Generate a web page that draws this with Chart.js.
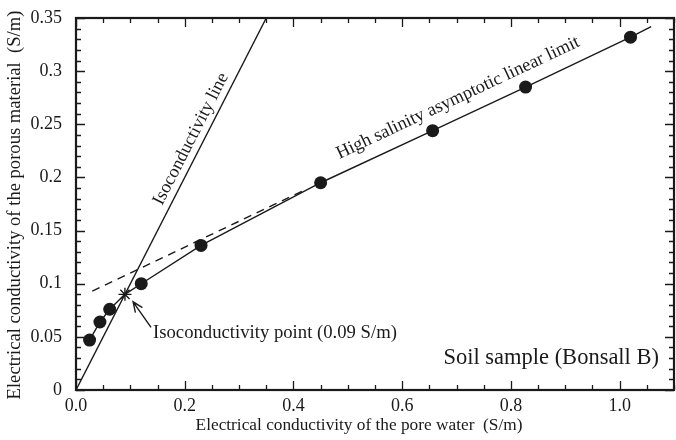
<!DOCTYPE html>
<html>
<head>
<meta charset="utf-8">
<script src="https://cdn.jsdelivr.net/npm/chart.js@4.4.1/dist/chart.umd.min.js"></script>
<style>
  html, body { margin: 0; padding: 0; background: #fff; overflow: hidden; }
  canvas { display: block; }
</style>
</head>
<body>
<canvas id="chart0" width="676" height="440"></canvas>
<script>
/** Data **/
// measured samples
const pointX = [0.025, 0.044, 0.062, 0.12, 0.23, 0.45, 0.656, 0.827, 1.02];
const pointY = [0.047, 0.064, 0.076, 0.100, 0.136, 0.195, 0.244, 0.285, 0.332];
// solid curve through the samples
const curveX = [0.025, 0.044, 0.062, 0.09, 0.12, 0.23, 0.45, 0.656, 0.827, 1.02, 1.058];
const curveY = [0.047, 0.064, 0.076, 0.09, 0.100, 0.136, 0.195, 0.244, 0.285, 0.332, 0.342];
// high salinity asymptotic linear limit (dashed part)
const limitX = [0.03, 0.42];
const limitY = [0.093, 0.188];
// isoconductivity line y = x
const isoX = [0, 0.35];
const isoY = [0, 0.35];
// isoconductivity point
const isoPointX = [0.09];
const isoPointY = [0.09];

const xTickLabels = ["0.0", "0.2", "0.4", "0.6", "0.8", "1.0"];
const yTickLabels = ["0", "0.05", "0.1", "0.15", "0.2", "0.25", "0.3", "0.35"];

const ink = "#1a1a1a";
const serif = "'Liberation Serif', 'DejaVu Serif', serif";

function pairs(xs, ys) {
  return xs.map(function(x, i) { return {x: x, y: ys[i]}; });
}

function noPadding(scale) {
  scale.paddingLeft = 0;
  scale.paddingRight = 0;
  scale.paddingTop = 0;
  scale.paddingBottom = 0;
}

/** Frame, inward ticks and annotations **/
const decorations = {
  id: "decorations",
  afterDatasetsDraw: function(chart) {
    const ctx = chart.ctx;
    const a = chart.chartArea;
    const xs = chart.scales.x;
    const ys = chart.scales.y;
    ctx.save();
    ctx.strokeStyle = ink;
    ctx.fillStyle = ink;

    // ticks on all four sides, pointing in
    ctx.lineWidth = 1.3;
    ctx.beginPath();
    for (let i = 0; i <= 22; i++) {
      const px = Math.round(xs.getPixelForValue(i * 0.05)) + 0.5;
      const len = (i % 4 === 0) ? 9 : 5;
      ctx.moveTo(px, a.bottom); ctx.lineTo(px, a.bottom - len);
      ctx.moveTo(px, a.top); ctx.lineTo(px, a.top + len);
    }
    for (let j = 0; j <= 35; j++) {
      const py = Math.round(ys.getPixelForValue(j * 0.01)) + 0.5;
      const len = (j % 5 === 0) ? 9 : 5;
      ctx.moveTo(a.left, py); ctx.lineTo(a.left + len, py);
      ctx.moveTo(a.right, py); ctx.lineTo(a.right - len, py);
    }
    ctx.stroke();

    // frame
    ctx.lineWidth = 2.2;
    ctx.strokeRect(a.left, a.top, a.right - a.left, a.bottom - a.top);

    // arrow to the isoconductivity point
    const tx = xs.getPixelForValue(0.138), ty = ys.getPixelForValue(0.059);
    const hx = xs.getPixelForValue(0.105), hy = ys.getPixelForValue(0.083);
    const ang = Math.atan2(hy - ty, hx - tx);
    ctx.lineWidth = 1.4;
    ctx.beginPath();
    ctx.moveTo(tx, ty); ctx.lineTo(hx, hy);
    ctx.moveTo(hx - 11 * Math.cos(ang - 0.4), hy - 11 * Math.sin(ang - 0.4));
    ctx.lineTo(hx, hy);
    ctx.lineTo(hx - 11 * Math.cos(ang + 0.4), hy - 11 * Math.sin(ang + 0.4));
    ctx.stroke();

    // rotated labels
    function slopeAngle(x0, y0, x1, y1) {
      return Math.atan2(ys.getPixelForValue(y1) - ys.getPixelForValue(y0),
                        xs.getPixelForValue(x1) - xs.getPixelForValue(x0));
    }
    ctx.textAlign = "center";
    ctx.textBaseline = "middle";

    ctx.font = "18.3px " + serif;
    ctx.save();
    ctx.translate(191, 139);
    ctx.rotate(slopeAngle(0, 0, 0.35, 0.35));
    ctx.fillText("Isoconductivity line", 0, 0);
    ctx.restore();

    ctx.font = "18.4px " + serif;
    ctx.save();
    ctx.translate(458, 98);
    ctx.rotate(slopeAngle(0.45, 0.195, 1.02, 0.332));
    ctx.fillText("High salinity asymptotic linear limit", 0, 0);
    ctx.restore();

    ctx.textAlign = "left";
    ctx.font = "18.7px " + serif;
    ctx.fillText("Isoconductivity point (0.09 S/m)", 153, 333);

    ctx.textAlign = "right";
    ctx.font = "22.5px " + serif;
    ctx.fillText("Soil sample (Bonsall B)", 659, 358);

    // axis titles
    ctx.textAlign = "center";
    ctx.font = "17.3px " + serif;
    ctx.fillText("Electrical conductivity of the pore water  (S/m)", 359, 425);
    ctx.font = "18.6px " + serif;
    ctx.save();
    ctx.translate(15, 205);
    ctx.rotate(-Math.PI / 2);
    ctx.fillText("Electrical conductivity of the porous material  (S/m)", 0, 0);
    ctx.restore();

    ctx.restore();
  }
};

var ctx = document.getElementById("chart0");
var chart = new Chart(ctx, {
  type: "scatter",
  data: {
    datasets: [
      {
        data: pairs(isoX, isoY),
        showLine: true, borderColor: ink, borderWidth: 1.4,
        pointRadius: 0, tension: 0
      },
      {
        data: pairs(limitX, limitY),
        showLine: true, borderColor: ink, borderWidth: 1.4,
        borderDash: [8, 6], pointRadius: 0, tension: 0
      },
      {
        data: pairs(curveX, curveY),
        showLine: true, borderColor: ink, borderWidth: 1.4,
        pointRadius: 0, tension: 0
      },
      {
        data: pairs(pointX, pointY),
        showLine: false, pointRadius: 6.5,
        pointBackgroundColor: ink, pointBorderColor: ink, pointBorderWidth: 0
      },
      {
        data: pairs(isoPointX, isoPointY),
        showLine: false, pointStyle: "star", pointRadius: 6.5,
        pointBorderColor: ink, pointBorderWidth: 1.4
      }
    ]
  },
  options: {
    responsive: false,
    animation: false,
    layout: {
      autoPadding: false,
      padding: { top: 18, right: 2, left: 0, bottom: 0 }
    },
    plugins: {
      legend: { display: false },
      tooltip: { enabled: false }
    },
    scales: {
      x: {
        type: "linear",
        position: "bottom",
        min: 0, max: 1.1,
        afterFit: function(scale) { scale.height = 50; noPadding(scale); },
        grid: { display: false, drawTicks: false, tickLength: 0 },
        border: { display: false },
        ticks: {
          stepSize: 0.2,
          includeBounds: false,
          maxRotation: 0,
          padding: 5,
          color: ink,
          font: { family: serif, size: 18 },
          callback: function(value, index) { return xTickLabels[index]; }
        }
      },
      y: {
        type: "linear",
        position: "left",
        min: 0, max: 0.35,
        afterFit: function(scale) { scale.width = 76; noPadding(scale); },
        grid: { display: false, drawTicks: false, tickLength: 0 },
        border: { display: false },
        ticks: {
          stepSize: 0.05,
          padding: 14,
          color: ink,
          font: { family: serif, size: 18 },
          callback: function(value, index) { return yTickLabels[index]; }
        }
      }
    }
  },
  plugins: [decorations]
});
</script>
</body>
</html>
